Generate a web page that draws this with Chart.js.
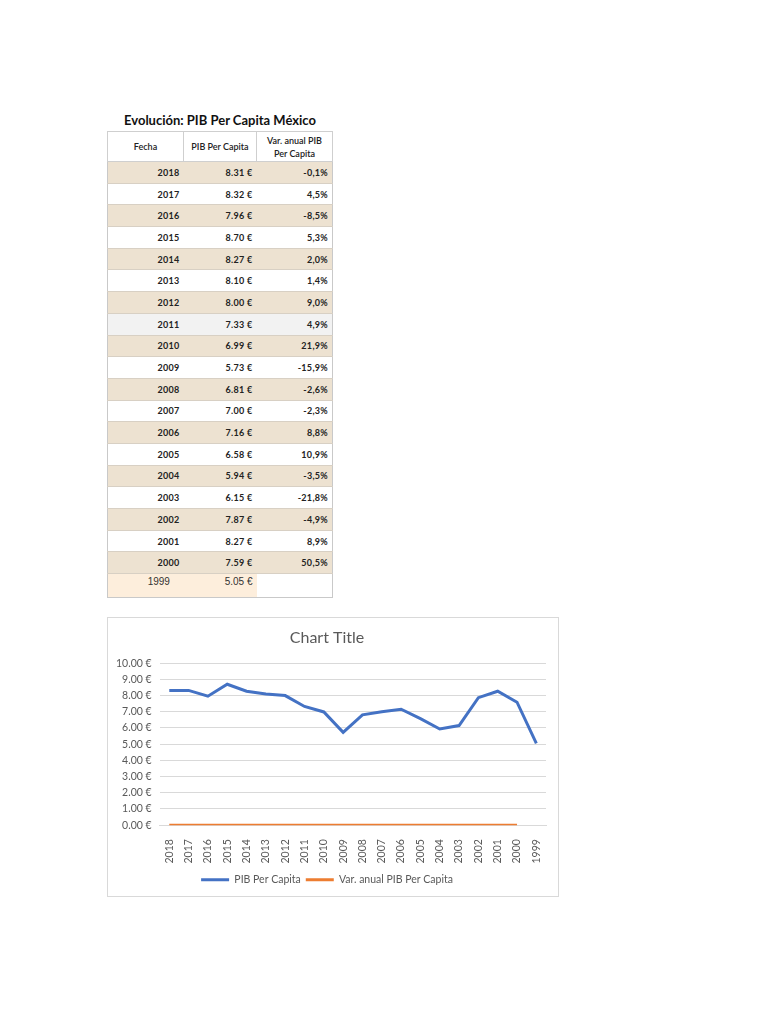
<!DOCTYPE html>
<html>
<head>
<meta charset="utf-8">
<script src="https://cdn.jsdelivr.net/npm/chart.js@4"></script>
<style>
  body { margin:0; background:#fff; font-family: Lato, "DejaVu Sans", sans-serif; }
  #title { position:absolute; left:107px; top:112px; width:226px; text-align:center;
           font-size:13px; font-weight:bold; color:#111; }
  #tbl { position:absolute; left:107px; top:131px; width:222px; table-layout:fixed;
         border-collapse:collapse; border:1px solid #c9c9c9; font-size:9px; }
  #tbl th { height:29px; padding:0; font-weight:600; color:#222; border:1px solid #cfcfcf;
            background:#fff; line-height:13px; }
  #tbl td { height:20.7px; padding:0 4px; text-align:right; font-weight:bold; color:#222;
            border-top:1px solid #d8d0c4; overflow:hidden; white-space:nowrap; letter-spacing:0.3px; }
  #tbl tr.tan td { background:#ede2d1; }
  #tbl tr.grey td { background:#f2f2f2; }
  #tbl tr.last td { font-weight:normal; font-family:"Liberation Sans", Arial, sans-serif;
            font-size:10px; color:#333; vertical-align:top; padding-top:2px; letter-spacing:0; }
  #tbl tr.last td.peach { background:#fdeedc; }
  #box { position:absolute; left:107px; top:617px; width:450px; height:278px;
         border:1px solid #d9d9d9; }
</style>
</head>
<body>
<div id="title">Evolución: PIB Per Capita México</div>
<table id="tbl"></table>
<div id="box"><canvas id="chart"></canvas></div>
<script>
var years = ["2018","2017","2016","2015","2014","2013","2012","2011","2010","2009",
             "2008","2007","2006","2005","2004","2003","2002","2001","2000","1999"];
var pibValues = [8.31, 8.32, 7.96, 8.70, 8.27, 8.10, 8.00, 7.33, 6.99, 5.73,
                 6.81, 7.00, 7.16, 6.58, 5.94, 6.15, 7.87, 8.27, 7.59, 5.05];
var varLabels = ["-0,1%","4,5%","-8,5%","5,3%","2,0%","1,4%","9,0%","4,9%","21,9%","-15,9%",
                 "-2,6%","-2,3%","8,8%","10,9%","-3,5%","-21,8%","-4,9%","8,9%","50,5%",""];
// the variation column is text in the sheet, so the chart plots it flat at zero
var varChartValues = [0,0,0,0,0,0,0,0,0,0,0,0,0,0,0,0,0,0,0,null];
var yTicks = [0,1,2,3,4,5,6,7,8,9,10];

// ---- table ----
var tbl = document.getElementById("tbl");
var html = '<tr><th style="width:75px">Fecha</th><th style="width:72px">PIB Per Capita</th>' +
           '<th style="width:75px">Var. anual PIB<br>Per Capita</th></tr>';
for (i = 0; i < years.length; i++) {
  var cls = (i % 2 == 0) ? "tan" : "";
  if (years[i] == "2011") cls = "grey";
  if (i == years.length - 1) {
    html += '<tr class="last"><td class="peach" style="text-align:center;padding-left:30px">' + years[i] +
            '</td><td class="peach">' + pibValues[i].toFixed(2) + ' €</td><td></td></tr>';
  } else {
    html += '<tr class="' + cls + '"><td>' + years[i] + '</td><td>' + pibValues[i].toFixed(2) +
            ' €</td><td>' + varLabels[i] + '</td></tr>';
  }
}
tbl.innerHTML = html;

// ---- chart ----
var CHART = document.getElementById("chart");
new Chart(CHART, {
  type: 'line',
  data: {
    labels: years,
    datasets: [{
      label: "PIB Per Capita",
      data: pibValues,
      borderColor: "#4472c4",
      backgroundColor: "#4472c4",
      borderWidth: 3,
      pointRadius: 0,
      tension: 0
    }, {
      label: "Var. anual PIB Per Capita",
      data: varChartValues,
      borderColor: "#ed7d31",
      backgroundColor: "#ed7d31",
      borderWidth: 3,
      pointRadius: 0
    }]
  },
  options: {
    responsive: true,
    maintainAspectRatio: false,
    animation: false,
    layout: { padding: { left: 0, right: 12, top: 6, bottom: 1 } },
    plugins: {
      title: {
        display: true,
        text: "Chart Title",
        color: "#595959",
        font: { family: "Lato", size: 16, weight: "normal" },
        padding: { top: 4, bottom: 16 }
      },
      legend: {
        position: 'bottom',
        labels: {
          usePointStyle: true,
          pointStyle: 'line',
          pointStyleWidth: 28,
          color: "#595959",
          font: { family: "Lato", size: 10.5 },
          padding: 5
        }
      },
      tooltip: { enabled: false }
    },
    scales: {
      x: {
        offset: true,
        grid: { display: false },
        border: { color: "#d9d9d9" },
        ticks: {
          color: "#595959",
          font: { family: "Lato", size: 10.5 },
          minRotation: 90, maxRotation: 90,
          autoSkip: false,
          padding: 6
        }
      },
      y: {
        min: 0, max: 10,
        afterBuildTicks: function(axis) { axis.ticks = yTicks.map(function(v){ return {value: v}; }); },
        grid: { color: "#d9d9d9", drawTicks: false },
        border: { display: false },
        ticks: {
          color: "#595959",
          font: { family: "Lato", size: 10.5 },
          autoSkip: false,
          padding: 8,
          callback: function(v) { return v.toFixed(2) + " €"; }
        }
      }
    }
  }
});
</script>
</body>
</html>
